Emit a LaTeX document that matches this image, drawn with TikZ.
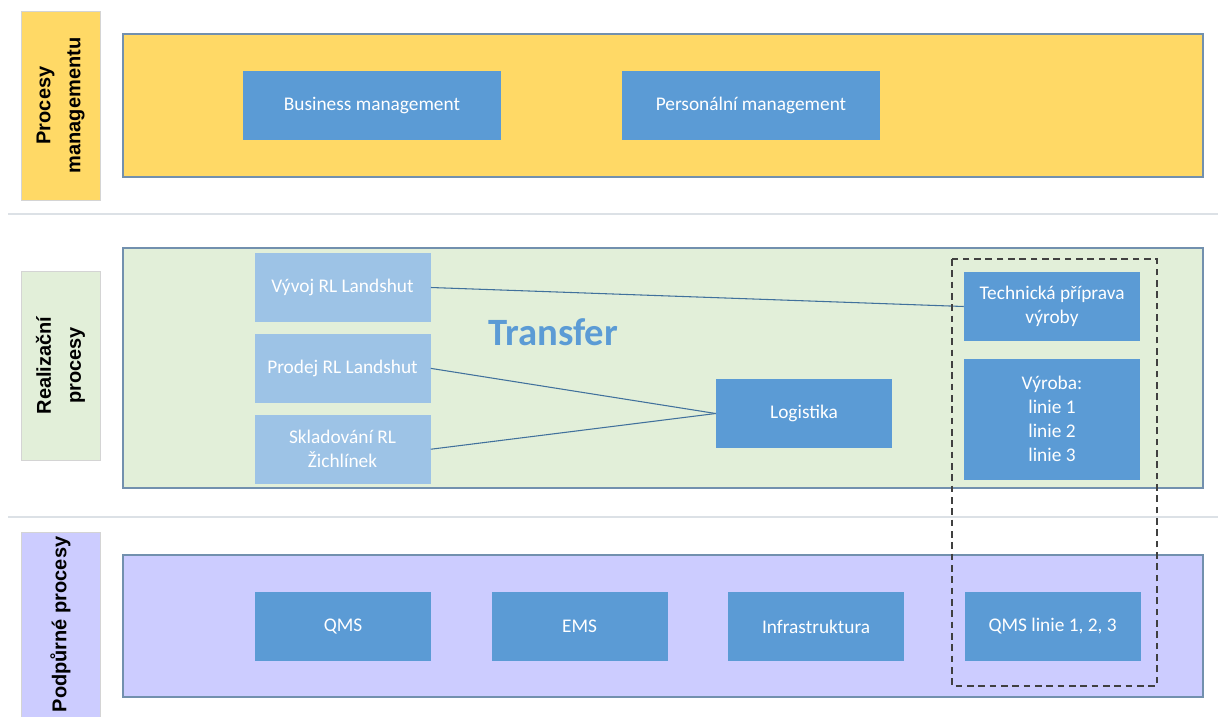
\documentclass[tikz,border=0pt]{standalone}
\usepackage{fontspec}
\setmainfont{Carlito}
\newfontfamily\labelfont{Liberation Sans}
\usetikzlibrary{positioning}
\definecolor{mgmtyellow}{HTML}{FFD966}
\definecolor{realgreen}{HTML}{E2EFD9}
\definecolor{supportlilac}{HTML}{CCCCFF}
\definecolor{procblue}{HTML}{5B9BD5}
\definecolor{lightblue}{HTML}{9DC3E6}
\definecolor{bandline}{HTML}{7290AE}
\definecolor{labelline}{HTML}{D4D4D4}
\definecolor{linkblue}{HTML}{41719C}
\definecolor{sepgray}{HTML}{DCE1E6}
\definecolor{dashgray}{HTML}{404040}

\begin{document}
\begin{tikzpicture}[x=0.75pt, y=-0.75pt,
                    bandbox/.style={draw=bandline, line width=0.9pt, minimum width=810pt},
                    sidelabel/.style={draw=labelline, rotate=90, minimum width=141.75pt,
                        minimum height=59.25pt, align=center, inner sep=0pt,
                        font=\labelfont\bfseries\fontsize{15}{22.5}\selectfont},
                    procbox/.style={fill=procblue, text=white, minimum width=132pt,
                        minimum height=52pt, align=center, inner sep=1pt,
                        font=\fontsize{14.5}{18}\selectfont},
                    lightbox/.style={procbox, fill=lightblue},
                    link/.style={draw=linkblue, line width=0.8pt}]
    \useasboundingbox (0,0) rectangle (1224,717);

    % separators
    \draw[sepgray, line width=1.8pt] (8,214) -- (1218,214);
    \draw[sepgray, line width=1.8pt] (8,517) -- (1218,517);

    % side labels
    \node[sidelabel, fill=mgmtyellow] (lmgmt) at (60.5,105.5) {Procesy\\managementu};
    \node[sidelabel, fill=realgreen] (lreal) at (60.5,365.5) {Realizační\\procesy};
    \node[sidelabel, fill=supportlilac, minimum width=138.75pt] (lsupp) at (60.5,624.5) {Podpůrné procesy};

    % bands
    \node[bandbox, fill=mgmtyellow, minimum height=107.25pt] (mgmt) at (663,105.5) {};
    \node[bandbox, fill=realgreen, minimum height=180pt] (real) at (663,368) {};
    \node[bandbox, fill=supportlilac, minimum height=106.5pt] (supp) at (663,626) {};

    % management
    \node[procbox, minimum width=193.5pt] (business) at (372,105.5) {Business management};
    \node[procbox, minimum width=193.5pt] (personal) at (751,105.5) {Personální management};

    % realisation
    \node[lightbox] (vyvoj) at (342.5,287.5) {Vývoj RL Landshut};
    \node[lightbox, below=8.25pt of vyvoj] (prodej) {Prodej RL Landshut};
    \node[lightbox, below=8.25pt of prodej] (sklad) {Skladování RL\\Žichlínek};
    \node[text=procblue, font=\bfseries\fontsize{29}{34}\selectfont] (transfer) at (553,332) {Transfer};
    \node[procbox] (logistika) at (804,413.5) {Logistika};
    \node[procbox] (tech) at (1052,306.5) {Technická příprava\\výroby};
    \node[procbox, below=12.75pt of tech, minimum height=90.75pt] (vyroba) {Výroba:\\linie 1\\linie 2\\linie 3};

    % support
    \node[procbox] (qms) at (343,626.5) {QMS};
    \node[procbox, right=45pt of qms] (ems) {EMS};
    \node[procbox, right=45pt of ems] (infra) {Infrastruktura};
    \node[procbox, right=45pt of infra] (qmslinie) {QMS linie 1, 2, 3};

    % links
    \draw[link] (vyvoj.east) -- (tech.west);
    \draw[link] (prodej.east) -- (logistika.west);
    \draw[link] (sklad.east) -- (logistika.west);

    % plant group
    \draw[dashgray, line width=1.1pt, dash pattern=on 5pt off 3.5pt] (952,259) rectangle (1157,686);
\end{tikzpicture}
\end{document}
